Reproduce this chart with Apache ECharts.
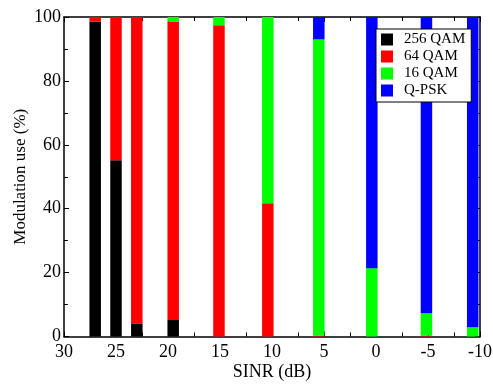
<!DOCTYPE html>
<html>
<head>
<meta charset="utf-8">
<script src="https://cdn.jsdelivr.net/npm/echarts@6/dist/echarts.min.js"></script>
<style>
    html, body { margin: 0; padding: 0; background: #fff; }
    #chart { width: 493px; height: 386px; }
</style>
</head>
<body>
<div id="chart"></div>
<script>
// SINR positions of the bars (dB)
const sinr = [27, 25, 23, 19.5, 15.1, 10.4, 5.5, 0.4, -4.85, -9.3];

// share of each modulation per bar (%)
const qam256 = [98.6, 55.2, 4.1, 5.2, 0, 0, 0, 0, 0, 0];
const qam64 = [1.4, 44.8, 95.9, 93.4, 97.4, 41.7, 0.3, 0, 0.3, 0];
const qam16 = [0, 0, 0, 1.4, 2.6, 58.3, 92.7, 21.4, 7.0, 2.9];
const qpsk = [0, 0, 0, 0, 0, 0, 7.0, 78.6, 92.7, 97.1];

const seriesNames = ["256 QAM", "64 QAM", "16 QAM", "Q-PSK"];
const seriesColors = ["#000000", "#ff0000", "#00ff00", "#0000ff"];
const seriesValues = [qam256, qam64, qam16, qpsk];

const font = "Liberation Serif";
const chart = echarts.init(document.getElementById("chart"));

const tickStyle = { show: true, inside: true, length: 5, lineStyle: { color: "#000", width: 1 } };
const minorStyle = { show: true, splitNumber: 2, length: 4, lineStyle: { color: "#000", width: 1 } };
const lineStyle = { show: true, onZero: false, lineStyle: { color: "#000", width: 1.5 } };

const option = {
    animation: false,
    backgroundColor: "#fff",
    grid: { left: 64, right: 13, top: 17, bottom: 49.5, outerBoundsMode: "none" },
    legend: {
        orient: "vertical",
        left: 376,
        top: 29,
        padding: [3, 6, 4, 5],
        itemWidth: 12,
        itemHeight: 12,
        itemGap: 2,
        icon: "rect",
        borderColor: "#000",
        borderWidth: 1,
        backgroundColor: "#fff",
        textStyle: { fontFamily: font, fontSize: 15, color: "#000", padding: [0, 0, 0, 6] },
        data: seriesNames,
    },
    xAxis: [
        {
            type: "value",
            inverse: true,
            min: -10,
            max: 30,
            interval: 5,
            name: "SINR (dB)",
            nameLocation: "middle",
            nameGap: 27,
            nameMoveOverlap: false,
            nameTextStyle: { fontFamily: font, fontSize: 18, color: "#000" },
            axisLine: lineStyle,
            axisTick: tickStyle,
            minorTick: minorStyle,
            splitLine: { show: false },
            axisLabel: { fontFamily: font, fontSize: 18, color: "#000", margin: 7 },
        },
        {
            type: "value",
            position: "top",
            inverse: true,
            min: -10,
            max: 30,
            interval: 5,
            axisLine: lineStyle,
            axisTick: tickStyle,
            minorTick: minorStyle,
            splitLine: { show: false },
            axisLabel: { show: false },
        },
    ],
    yAxis: [
        {
            type: "value",
            min: 0,
            max: 100,
            interval: 20,
            name: "Modulation use (%)",
            nameLocation: "middle",
            nameGap: 35,
            nameMoveOverlap: false,
            nameTextStyle: { fontFamily: font, fontSize: 17, color: "#000" },
            axisLine: lineStyle,
            axisTick: tickStyle,
            minorTick: minorStyle,
            splitLine: { show: false },
            axisLabel: { fontFamily: font, fontSize: 18, color: "#000", margin: 3 },
        },
        {
            type: "value",
            position: "right",
            min: 0,
            max: 100,
            interval: 20,
            axisLine: lineStyle,
            axisTick: tickStyle,
            minorTick: minorStyle,
            splitLine: { show: false },
            axisLabel: { show: false },
        },
    ],
    // value first so that the stack is built on the y dimension
    series: seriesNames.map((name, i) => ({
        name,
        type: "bar",
        stack: "mod",
        barWidth: 11.5,
        xAxisIndex: 0,
        yAxisIndex: 0,
        encode: { x: 1, y: 0 },
        itemStyle: { color: seriesColors[i] },
        data: sinr.map((x, j) => [seriesValues[i][j], x]),
    })),
};

chart.setOption(option);
</script>
</body>
</html>
